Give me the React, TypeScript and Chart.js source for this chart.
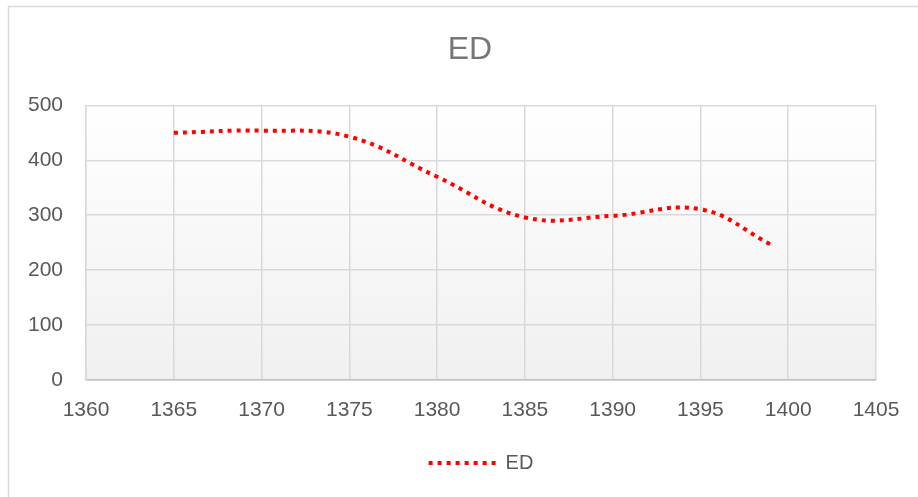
import React, { useEffect, useRef } from "react";
import { Chart, registerables } from "chart.js";

Chart.register(...registerables);

const titleText = "ED";
const seriesName = "ED";
const years = [1365, 1370, 1375, 1380, 1385, 1390, 1395, 1399];
const edValues = [450, 454, 443, 370, 296, 299, 311, 247];
const xMin = 1360;
const xMax = 1405;
const xStep = 5;
const yMin = 0;
const yMax = 500;
const yStep = 100;

const FONT = "'Liberation Sans', Arial, sans-serif";
const LINE_DASH = [4, 5];

const backgroundPlugin = {
  id: "bgPlugin",
  beforeDraw(chart: any) {
    const { ctx, chartArea, width, height } = chart;
    ctx.save();
    ctx.fillStyle = "#ffffff";
    ctx.fillRect(0, 0, width, height);
    ctx.strokeStyle = "#d9d9d9";
    ctx.lineWidth = 1.5;
    ctx.beginPath();
    ctx.moveTo(8.5, height + 2);
    ctx.lineTo(8.5, 6.5);
    ctx.lineTo(width + 2, 6.5);
    ctx.stroke();
    if (chartArea) {
      const g = ctx.createLinearGradient(0, chartArea.top, 0, chartArea.bottom);
      g.addColorStop(0, "#ffffff");
      g.addColorStop(1, "#f0f0f0");
      ctx.fillStyle = g;
      ctx.fillRect(
        chartArea.left,
        chartArea.top,
        chartArea.right - chartArea.left,
        chartArea.bottom - chartArea.top
      );
    }
    ctx.restore();
  },
};

export default function App() {
  const ref = useRef<HTMLCanvasElement | null>(null);

  useEffect(() => {
    if (!ref.current) return;
    const chart = new Chart(ref.current, {
      type: "line",
      data: {
        datasets: [
          {
            label: seriesName,
            data: years.map((x, i) => ({ x, y: edValues[i] })),
            borderColor: "#ff0000",
            backgroundColor: "#ff0000",
            borderWidth: 4,
            borderDash: LINE_DASH,
            borderCapStyle: "butt",
            pointRadius: 0,
            pointHoverRadius: 0,
            tension: 0.4,
            fill: false,
            yAxisID: "y",
          },
        ],
      },
      options: {
        responsive: false,
        animation: false,
        devicePixelRatio: 1,
        layout: { padding: { top: 6, left: 0, right: 0, bottom: 14 } },
        plugins: {
          title: {
            display: true,
            text: titleText,
            color: "#767676",
            font: { family: FONT, size: 32, weight: "normal" },
            padding: { top: 25, bottom: 36 },
          },
          legend: {
            display: true,
            position: "bottom",
            fullSize: false,
            labels: {
              usePointStyle: true,
              pointStyle: "line",
              pointStyleWidth: 67,
              color: "#595959",
              font: { family: FONT, size: 20 },
              padding: 10,
              generateLabels: (c: any) => {
                const items = Chart.defaults.plugins.legend.labels.generateLabels(c);
                return items.map((it: any) => ({
                  ...it,
                  lineDash: LINE_DASH,
                  lineWidth: 4,
                  strokeStyle: "#ff0000",
                  fillStyle: "#ff0000",
                  lineCap: "butt",
                  pointStyle: "line",
                }));
              },
            },
          },
          tooltip: { enabled: false },
        },
        scales: {
          x: {
            type: "linear",
            min: xMin,
            max: xMax,
            ticks: {
              stepSize: xStep,
              color: "#595959",
              font: { family: FONT, size: 21 },
              padding: 18,
              maxRotation: 0,
              callback: (v: any) => String(v),
            },
            grid: { color: "#d9d9d9", lineWidth: 1.5, drawTicks: false },
            border: { color: "#bfbfbf", width: 1.5 },
            afterFit: (scale: any) => {
              scale.height = 63;
            },
          },
          y: {
            type: "linear",
            position: "left",
            min: yMin,
            max: yMax,
            ticks: {
              stepSize: yStep,
              color: "#595959",
              font: { family: FONT, size: 21 },
              padding: 23,
            },
            grid: { color: "#d9d9d9", lineWidth: 1.5, drawTicks: false },
            border: { color: "#d9d9d9", width: 1.5 },
            afterFit: (scale: any) => {
              scale.width = 86;
            },
          },
          ySpacer: {
            type: "linear",
            position: "right",
            display: true,
            min: 0,
            max: 1,
            ticks: { display: false },
            grid: { display: false, drawOnChartArea: false, drawTicks: false },
            border: { display: false },
            afterFit: (scale: any) => {
              scale.width = 64;
            },
          },
        },
      },
      plugins: [backgroundPlugin],
    } as any);
    return () => chart.destroy();
  }, []);

  return (
    <div
      style={{
        position: "fixed",
        left: 0,
        top: 0,
        width: 918,
        height: 497,
        overflow: "hidden",
        background: "#ffffff",
      }}
    >
      <canvas ref={ref} width={940} height={497} style={{ display: "block" }} />
    </div>
  );
}
